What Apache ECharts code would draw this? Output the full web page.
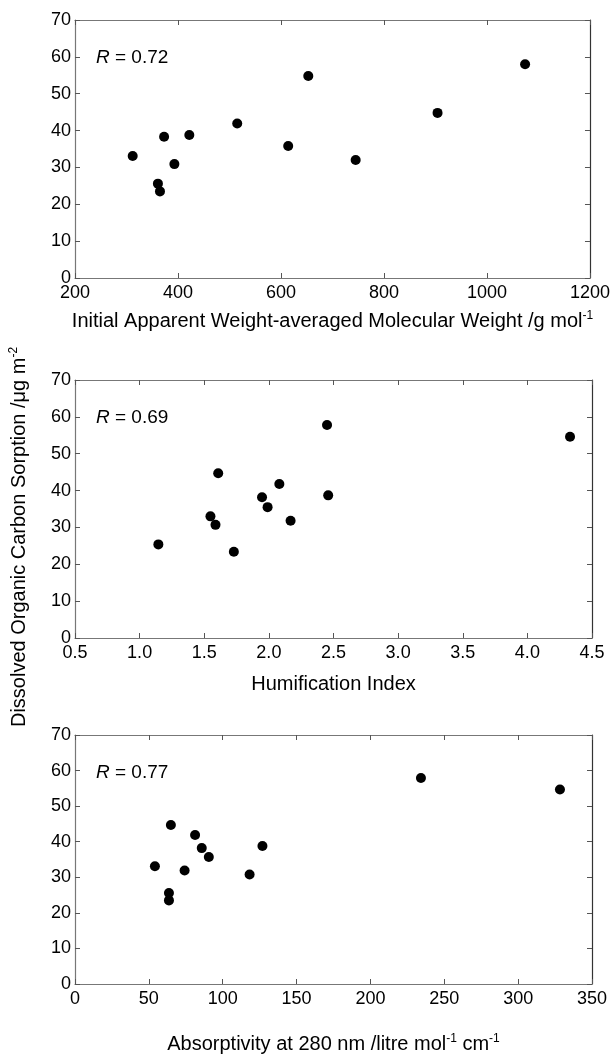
<!DOCTYPE html>
<html>
<head>
<meta charset="utf-8">
<script src="https://cdn.jsdelivr.net/npm/echarts@6/dist/echarts.min.js"></script>
<style>html,body{margin:0;padding:0;background:#fff;}#c{width:613px;height:1056px;}</style>
</head>
<body>
<div id="c"></div>
<script>
// Panel 1: initial apparent weight-averaged molecular weight
const mwX = [312, 361, 365, 373, 393, 422, 515, 614, 653, 745, 904, 1074];
const mwY = [33.1, 25.6, 23.5, 38.3, 30.9, 38.8, 41.9, 35.8, 54.8, 32.0, 44.8, 58.0];
// Panel 2: humification index
const hiX = [1.145, 1.548, 1.587, 1.608, 1.729, 1.947, 1.990, 2.081, 2.168, 2.450, 2.459, 4.330];
const hiY = [25.4, 33.0, 30.7, 44.7, 23.4, 38.2, 35.5, 41.8, 31.8, 57.8, 38.7, 54.6];
// Panel 3: absorptivity at 280 nm
const abX = [54.1, 63.6, 63.6, 64.9, 74.2, 81.3, 85.8, 90.6, 118.2, 126.9, 234.2, 328.3];
const abY = [33.1, 25.6, 23.5, 44.7, 31.9, 41.9, 38.2, 35.7, 30.8, 38.8, 57.9, 54.7];
const rLabels = ['0.72', '0.69', '0.77'];
const xNames = [
  'Initial Apparent Weight-averaged Molecular Weight /g mol{sup|-1}',
  'Humification Index',
  'Absorptivity at 280 nm /litre mol{sup|-1} cm{sup|-1}'
];
const yName = 'Dissolved Organic Carbon Sorption /\u03bcg m{sup|-2}';
const xRanges = [[200, 1200, 200], [0.5, 4.5, 0.5], [0, 350, 50]];
const yRange = [0, 70, 10];

const FONT = '"Liberation Sans", Arial, sans-serif';
const tops = [20, 380, 735];
const nameGaps = [32, 35, 49];
const LEFT = 75, WIDTH = 517, HEIGHT = 258;
const richSup = {
  sup: { fontSize: 12, verticalAlign: 'top', lineHeight: 12, fontFamily: FONT, color: '#000' }
};

const grids = [], xAxes = [], yAxes = [], series = [], graphics = [];
const datasets = [[mwX, mwY], [hiX, hiY], [abX, abY]];
datasets.forEach((d, i) => {
  grids.push({ left: LEFT, top: tops[i], width: WIDTH, height: HEIGHT });
  const [xmin, xmax, xint] = xRanges[i];
  xAxes.push({
    type: 'value', gridIndex: i, min: xmin, max: xmax, interval: xint,
    position: 'bottom',
    axisLine: { show: true, onZero: false, lineStyle: { color: '#777', width: 1.2 } },
    axisTick: { show: true, inside: true, length: 5, lineStyle: { color: '#555' } },
    axisLabel: { color: '#000', fontSize: 18, fontFamily: FONT, margin: 6,
      formatter: v => (i === 1 ? v.toFixed(1) : String(v)) },
    splitLine: { show: false },
    name: xNames[i], nameLocation: 'middle', nameGap: nameGaps[i],
    nameTextStyle: { color: '#000', fontSize: 20, fontFamily: FONT, lineHeight: 22, rich: richSup }
  });
  xAxes.push({
    type: 'value', gridIndex: i, min: xmin, max: xmax, interval: xint,
    position: 'top',
    axisLine: { show: true, onZero: false, lineStyle: { color: '#777', width: 1.2 } },
    axisTick: { show: true, inside: true, length: 5, lineStyle: { color: '#555' } },
    axisLabel: { show: false }, splitLine: { show: false }
  });
  yAxes.push({
    type: 'value', gridIndex: i, min: yRange[0], max: yRange[1], interval: yRange[2],
    position: 'left',
    axisLine: { show: true, onZero: false, lineStyle: { color: '#777', width: 1.2 } },
    axisTick: { show: true, inside: true, length: 5, lineStyle: { color: '#555' } },
    axisLabel: { color: '#000', fontSize: 18, fontFamily: FONT, margin: 4 },
    splitLine: { show: false }
  });
  yAxes.push({
    type: 'value', gridIndex: i, min: yRange[0], max: yRange[1], interval: yRange[2],
    position: 'right',
    axisLine: { show: true, onZero: false, lineStyle: { color: '#333', width: 1.2 } },
    axisTick: { show: true, inside: true, length: 5, lineStyle: { color: '#555' } },
    axisLabel: { show: false }, splitLine: { show: false }
  });
  series.push({
    type: 'scatter', xAxisIndex: i * 2, yAxisIndex: i * 2,
    data: d[0].map((x, k) => [x, d[1][k]]),
    symbol: 'circle', symbolSize: 10,
    itemStyle: { color: '#000', opacity: 1 }, silent: true
  });
  graphics.push({
    type: 'text', left: 96, top: tops[i] + 28,
    style: {
      text: '{i|R} = ' + rLabels[i],
      fontSize: 19, fontFamily: FONT, fill: '#000',
      rich: { i: { fontStyle: 'italic', fontSize: 19, fontFamily: FONT, fill: '#000' } }
    }
  });
});

graphics.push({
  type: 'text', x: 19, y: 537, rotation: Math.PI / 2,
  style: {
    x: 0, y: 0, text: yName, align: 'center', verticalAlign: 'middle',
    fontSize: 20, fontFamily: FONT, fill: '#000', lineHeight: 22,
    rich: { sup: { fontSize: 12, verticalAlign: 'top', lineHeight: 12, fontFamily: FONT, fill: '#000' } }
  }
});

const chart = echarts.init(document.getElementById('c'), null, { renderer: 'canvas' });
chart.setOption({
  animation: false,
  backgroundColor: '#fff',
  grid: grids, xAxis: xAxes, yAxis: yAxes, series: series, graphic: graphics
});
</script>
</body>
</html>
